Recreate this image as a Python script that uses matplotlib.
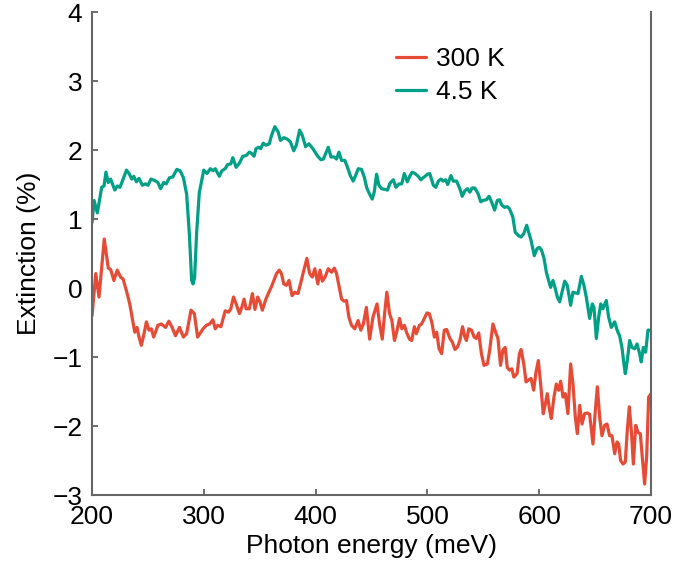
import matplotlib
matplotlib.use("Agg")
import matplotlib.pyplot as plt

# ---- data ----
energy_45K = [200.0, 201.8, 204.7, 208.6, 210.7, 212.4, 214.5, 216.6, 218.4, 220.4, 222.5, 224.9,
              227.8, 230.8, 233.1, 235.5, 237.3, 239.7, 242.0, 245.0, 248.0, 250.0, 252.7, 256.0,
              258.9, 261.3, 264.0, 266.3, 269.3, 272.2, 275.8, 278.8, 281.7, 284.6, 287.0, 289.1,
              290.3, 291.7, 293.5, 295.9, 299.9, 302.8, 305.8, 308.2, 310.2, 313.8, 316.1, 319.1,
              321.2, 324.1, 325.9, 328.9, 331.8, 334.8, 337.8, 340.7, 342.8, 344.9, 346.6, 349.0,
              350.8, 353.1, 355.5, 358.5, 360.5, 363.5, 366.5, 368.5, 371.5, 374.5, 377.4, 380.4,
              382.7, 385.7, 388.1, 391.0, 394.0, 397.5, 401.9, 404.8, 406.9, 409.0, 411.3, 413.7,
              416.7, 418.7, 420.8, 423.2, 426.1, 428.5, 431.0, 433.6, 435.7, 438.1, 441.0, 443.5,
              445.6, 448.0, 450.6, 452.4, 454.5, 456.6, 459.0, 462.0, 464.3, 466.5, 469.5, 471.8,
              474.6, 477.0, 479.3, 482.0, 484.4, 486.4, 488.8, 491.8, 494.1, 497.1, 500.1, 502.1,
              505.3, 507.4, 509.8, 512.1, 514.2, 516.3, 518.1, 521.0, 523.1, 526.1, 529.0, 531.1,
              533.5, 535.8, 537.9, 540.0, 542.3, 545.3, 547.7, 549.7, 552.7, 555.1, 557.1, 560.1,
              562.5, 564.5, 566.6, 569.0, 571.4, 573.4, 576.4, 578.5, 581.4, 583.8, 586.2, 588.8,
              590.6, 592.7, 595.6, 598.0, 600.1, 602.1, 604.3, 606.4, 608.4, 610.2, 612.3, 614.4,
              616.2, 618.3, 620.4, 622.8, 625.1, 628.1, 630.2, 632.3, 634.7, 637.7, 640.0, 642.1,
              645.1, 647.5, 649.0, 651.1, 653.2, 655.0, 657.0, 660.0, 662.1, 664.5, 667.5, 669.9,
              671.9, 674.0, 675.8, 677.0, 678.8, 680.9, 683.0, 685.4, 687.5, 689.8, 691.3, 693.1,
              695.2, 697.3, 700.0]
ext_45K = [0.95, 1.27, 1.09, 1.46, 1.48, 1.68, 1.53, 1.58, 1.50, 1.42, 1.48, 1.46,
           1.58, 1.71, 1.66, 1.58, 1.62, 1.54, 1.59, 1.49, 1.51, 1.49, 1.58, 1.56,
           1.53, 1.44, 1.53, 1.51, 1.60, 1.61, 1.72, 1.70, 1.60, 1.36, 0.79, 0.11,
           0.06, 0.15, 0.79, 1.38, 1.71, 1.66, 1.73, 1.70, 1.73, 1.62, 1.70, 1.73,
           1.79, 1.80, 1.89, 1.75, 1.81, 1.91, 1.92, 1.97, 1.95, 1.91, 2.02, 2.04,
           2.02, 2.10, 2.07, 2.09, 2.21, 2.34, 2.26, 2.14, 2.18, 2.16, 2.12, 1.99,
           2.07, 2.29, 2.21, 2.05, 2.09, 2.02, 1.91, 1.86, 1.87, 1.95, 2.04, 1.90,
           1.90, 1.87, 1.97, 1.85, 1.85, 1.75, 1.63, 1.55, 1.63, 1.73, 1.72, 1.61,
           1.46, 1.37, 1.29, 1.39, 1.65, 1.49, 1.44, 1.43, 1.42, 1.52, 1.57, 1.46,
           1.51, 1.51, 1.66, 1.54, 1.63, 1.68, 1.66, 1.62, 1.57, 1.61, 1.65, 1.66,
           1.49, 1.46, 1.55, 1.58, 1.55, 1.57, 1.50, 1.63, 1.55, 1.55, 1.44, 1.33,
           1.41, 1.44, 1.39, 1.45, 1.45, 1.37, 1.25, 1.27, 1.28, 1.33, 1.26, 1.13,
           1.27, 1.28, 1.20, 1.17, 1.18, 1.15, 1.03, 0.81, 0.76, 0.74, 0.79, 0.91,
           0.81, 0.69, 0.47, 0.57, 0.59, 0.55, 0.43, 0.23, 0.11, 0.01, 0.11, -0.01,
           -0.13, -0.20, -0.06, 0.10, 0.04, -0.25, -0.06, -0.07, -0.08, 0.17, 0.04, -0.13,
           -0.44, -0.23, -0.28, -0.73, -0.42, -0.23, -0.30, -0.18, -0.42, -0.57, -0.49, -0.62,
           -0.69, -0.86, -1.10, -1.24, -1.05, -0.76, -0.86, -0.88, -0.81, -0.95, -1.07, -0.86,
           -0.93, -0.61, -0.61]

energy_300K = [200.0, 203.3, 206.2, 210.9, 214.5, 216.6, 219.5, 222.5, 225.5, 227.8, 231.4, 233.7,
               235.8, 238.2, 240.2, 242.0, 244.1, 246.5, 248.6, 250.9, 253.0, 255.1, 258.9, 261.9,
               265.7, 268.7, 271.6, 274.6, 278.2, 281.7, 284.6, 288.5, 291.5, 294.4, 299.3, 302.2,
               305.2, 308.1, 310.2, 312.3, 315.3, 319.1, 322.1, 324.1, 326.5, 328.9, 331.8, 333.9,
               336.0, 337.8, 340.7, 343.4, 345.7, 348.1, 350.2, 352.3, 355.5, 358.2, 360.5, 362.6,
               365.0, 367.4, 369.4, 371.5, 373.9, 376.2, 378.9, 381.3, 384.2, 387.2, 389.3, 392.2,
               394.6, 397.0, 399.3, 402.0, 403.9, 406.0, 408.4, 411.3, 414.3, 416.7, 418.7, 420.8,
               423.2, 425.5, 427.6, 429.7, 432.1, 435.0, 438.0, 440.4, 442.7, 445.4, 448.3, 451.3,
               454.9, 457.2, 459.6, 461.7, 463.7, 466.1, 468.2, 470.5, 472.9, 475.0, 477.1, 479.4,
               481.5, 483.9, 485.9, 488.3, 490.1, 492.8, 494.8, 497.2, 499.6, 501.6, 504.0, 506.2,
               508.3, 510.4, 512.7, 515.1, 517.2, 520.1, 522.2, 524.6, 527.0, 529.0, 531.4, 533.5,
               534.9, 537.0, 539.4, 541.8, 543.8, 545.9, 548.3, 550.6, 553.6, 555.7, 558.6, 561.0,
               563.1, 565.4, 567.5, 569.6, 571.4, 573.4, 575.5, 577.3, 580.2, 582.3, 583.8, 586.2,
               588.2, 590.6, 592.7, 595.0, 597.1, 599.2, 601.5, 603.6, 605.5, 607.2, 609.3, 610.8,
               613.2, 615.3, 617.4, 619.2, 621.3, 623.3, 625.7, 628.1, 630.2, 632.3, 634.1, 636.2,
               638.3, 640.6, 643.0, 645.1, 648.1, 650.2, 652.0, 654.1, 656.1, 658.5, 660.6, 663.0,
               665.1, 667.5, 669.6, 671.1, 672.8, 675.0, 677.0, 678.8, 680.6, 682.4, 684.2, 686.3,
               688.3, 690.4, 692.5, 694.3, 696.1, 697.9, 700.0]
ext_300K = [-0.40, 0.21, -0.13, 0.71, 0.29, 0.27, 0.11, 0.26, 0.16, 0.13, -0.08, -0.23,
            -0.42, -0.64, -0.57, -0.71, -0.83, -0.66, -0.49, -0.61, -0.59, -0.71, -0.54, -0.52,
            -0.57, -0.48, -0.57, -0.69, -0.57, -0.71, -0.66, -0.32, -0.37, -0.71, -0.59, -0.54,
            -0.52, -0.46, -0.59, -0.54, -0.56, -0.33, -0.35, -0.30, -0.13, -0.23, -0.37, -0.28,
            -0.16, -0.30, -0.30, -0.08, -0.31, -0.13, -0.20, -0.32, -0.16, -0.06, 0.02, 0.11,
            0.21, 0.26, 0.21, 0.06, 0.04, 0.11, -0.11, -0.06, -0.08, 0.11, 0.25, 0.43,
            0.21, 0.16, 0.28, 0.06, 0.26, 0.10, 0.16, 0.28, 0.23, 0.29, 0.21, 0.04,
            -0.16, -0.19, -0.18, -0.42, -0.54, -0.59, -0.47, -0.61, -0.52, -0.28, -0.74, -0.42,
            -0.23, -0.52, -0.74, -0.37, -0.06, -0.37, -0.47, -0.76, -0.61, -0.44, -0.59, -0.54,
            -0.65, -0.74, -0.76, -0.56, -0.66, -0.54, -0.52, -0.44, -0.36, -0.37, -0.50, -0.71,
            -0.64, -0.88, -0.95, -0.61, -0.60, -0.73, -0.78, -0.89, -0.85, -0.76, -0.56, -0.71,
            -0.76, -0.59, -0.61, -0.71, -0.73, -0.65, -0.95, -1.12, -1.10, -0.90, -0.52, -0.64,
            -0.73, -1.12, -0.90, -0.86, -1.15, -1.19, -1.17, -1.29, -1.24, -0.95, -0.89, -1.10,
            -1.36, -1.33, -1.31, -1.48, -1.22, -1.05, -1.43, -1.82, -1.68, -1.53, -1.77, -1.89,
            -1.58, -1.39, -1.48, -1.35, -1.58, -1.53, -1.82, -1.10, -1.39, -1.87, -2.11, -1.70,
            -1.97, -1.82, -1.81, -1.83, -2.26, -1.77, -1.43, -1.87, -2.14, -1.99, -1.97, -2.14,
            -2.14, -2.40, -2.23, -2.26, -2.50, -2.55, -2.52, -2.06, -1.72, -2.06, -2.55, -1.99,
            -2.09, -2.11, -2.50, -2.84, -2.45, -1.58, -1.53]

x_ticks = [200, 300, 400, 500, 600, 700]
y_ticks = [-3, -2, -1, 0, 1, 2, 3, 4]
labels = ["300 K", "4.5 K"]
colors = ["#E64B35", "#00A087"]

# ---- figure ----
plt.rcParams['font.family'] = ['Liberation Sans', 'DejaVu Sans']
fig = plt.figure(figsize=(6.77, 5.75), dpi=100)
ax = fig.add_axes([0.136, 0.139, 0.9616 - 0.136, 0.979 - 0.139])

ax.plot(energy_300K, ext_300K, color=colors[0], lw=2.3, label=labels[0],
        solid_joinstyle='round', solid_capstyle='round')
ax.plot(energy_45K, ext_45K, color=colors[1], lw=2.3, label=labels[1],
        solid_joinstyle='round', solid_capstyle='round')

ax.set_xlim(200, 700)
ax.set_ylim(-3, 4)
ax.set_xticks(x_ticks)
ax.set_yticks(y_ticks)
ax.tick_params(direction='in', length=4, width=1.2, color='#555555',
               labelsize=19, pad=7, top=False, right=False)
for side in ['left', 'bottom', 'right']:
    ax.spines[side].set_color('#666666')
    ax.spines[side].set_linewidth(1.5)
ax.spines['top'].set_visible(False)

ax.set_xlabel("Photon energy (meV)", fontsize=19, labelpad=4)
ax.set_ylabel("Extinction (%)", fontsize=19, labelpad=8)

ax.legend(loc='upper left', bbox_to_anchor=(0.525, 0.95), frameon=False, fontsize=19,
          handlelength=1.15, handletextpad=0.35, labelspacing=0.35, borderaxespad=0)

fig.savefig("out.png", dpi=100)
